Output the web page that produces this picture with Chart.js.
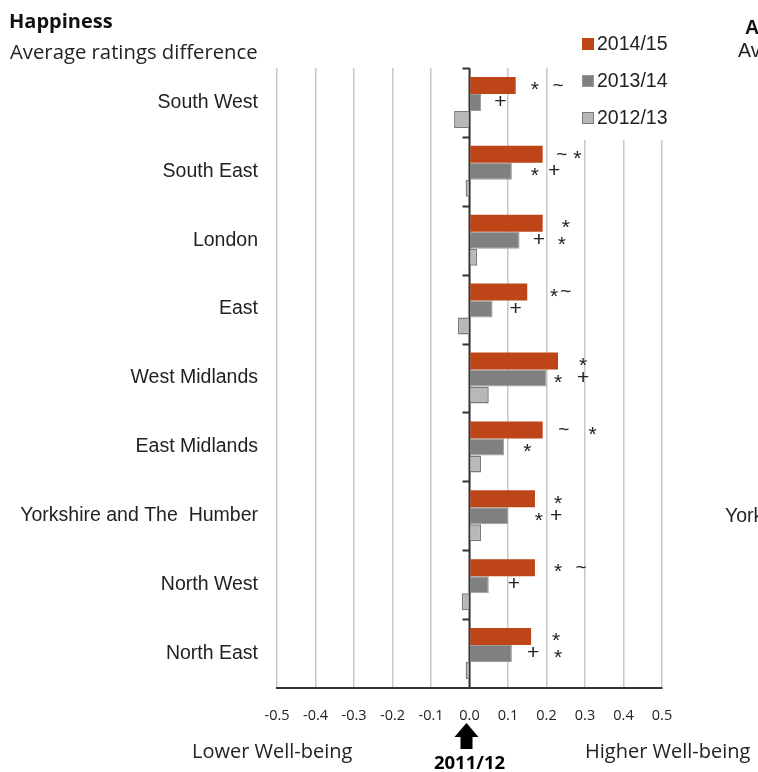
<!DOCTYPE html>
<html>
<head>
    <meta charset="UTF-8">
    <title>Happiness - Average ratings difference</title>
    <script src="https://cdn.jsdelivr.net/npm/chart.js@4.4.1/dist/chart.umd.min.js"></script>
    <style>
        body { margin: 0; background: #fff; }
        #wrap { position: relative; width: 758px; height: 772px; }
    </style>
</head>
<body>
<div id="wrap">
    <canvas id="happinessChart" width="758" height="772"></canvas>
</div>

<script>
    // Regions, top to bottom.
    var regions = ['South West', 'South East', 'London', 'East', 'West Midlands',
        'East Midlands', 'Yorkshire and The  Humber', 'North West', 'North East'];

    // Average ratings difference compared with 2011/12.
    var diff2014 = [0.12, 0.19, 0.19, 0.15, 0.23, 0.19, 0.17, 0.17, 0.16];
    var diff2013 = [0.03, 0.11, 0.13, 0.06, 0.20, 0.09, 0.10, 0.05, 0.11];
    var diff2012 = [-0.04, -0.01, 0.02, -0.03, 0.05, 0.03, 0.03, -0.02, -0.01];

    // Significance markers next to the bars: [symbol, value on the x axis].
    var marks2014 = [
        [['*', 0.17], ['~', 0.23]],
        [['~', 0.24], ['*', 0.28]],
        [['*', 0.25]],
        [['*', 0.22], ['~', 0.25]],
        [['*', 0.295]],
        [['~', 0.245], ['*', 0.32]],
        [['*', 0.23]],
        [['*', 0.23], ['~', 0.29]],
        [['*', 0.225]]
    ];
    var marks2013 = [
        [['+', 0.08]],
        [['*', 0.17], ['+', 0.22]],
        [['+', 0.18], ['*', 0.24]],
        [['+', 0.12]],
        [['*', 0.23], ['+', 0.295]],
        [['*', 0.15]],
        [['*', 0.18], ['+', 0.225]],
        [['+', 0.115]],
        [['+', 0.165], ['*', 0.23]]
    ];

    var xTicks = [-0.5, -0.4, -0.3, -0.2, -0.1, 0.0, 0.1, 0.2, 0.3, 0.4, 0.5];

    // Draws the zero axis, markers, legend and the texts around the plot.
    var extras = {
        id: 'extras',
        beforeDatasetsDraw: function(chart) {
            var ctx = chart.ctx;
            var x = chart.scales.x, y = chart.scales.y;
            var x0 = x.getPixelForValue(0);
            ctx.save();
            // white box behind the legend hides the top of two grid lines
            ctx.fillStyle = '#fff';
            ctx.fillRect(574, chart.chartArea.top - 2, 100, 140 - chart.chartArea.top + 2);
            // zero axis with tick marks at category boundaries
            ctx.strokeStyle = '#333';
            ctx.lineWidth = 2;
            ctx.beginPath();
            ctx.moveTo(x0, chart.chartArea.top);
            ctx.lineTo(x0, chart.chartArea.bottom);
            for (var i = 0; i < regions.length; i++) {
                var ty = Math.round(y.getPixelForValue(i - 0.5)) + 0.5;
                ctx.moveTo(x0 - 7, ty);
                ctx.lineTo(x0, ty);
            }
            ctx.stroke();
            ctx.restore();
        },
        afterDraw: function(chart) {
            var ctx = chart.ctx;
            var x = chart.scales.x;
            var x0 = x.getPixelForValue(0);
            ctx.save();

            // significance markers
            ctx.fillStyle = '#222';
            ctx.textBaseline = 'middle';
            ctx.textAlign = 'center';
            [[0, marks2014], [1, marks2013]].forEach(function(pair) {
                var meta = chart.getDatasetMeta(pair[0]);
                pair[1].forEach(function(list, j) {
                    var by = meta.data[j].y;
                    list.forEach(function(m) {
                        if (m[0] === '*') {
                            ctx.font = '21px "Liberation Sans"';
                            ctx.fillText('*', x.getPixelForValue(m[1]), by + 5);
                        } else if (m[0] === '+') {
                            ctx.font = '21px "Liberation Sans"';
                            ctx.fillText('+', x.getPixelForValue(m[1]), by);
                        } else {
                            ctx.font = '19px "Liberation Sans"';
                            ctx.fillText('~', x.getPixelForValue(m[1]), by);
                        }
                    });
                });
            });

            // legend
            ctx.textAlign = 'left';
            ctx.font = '19.5px "Liberation Sans"';
            chart.data.datasets.forEach(function(ds, i) {
                var ly = 44 + i * 37;
                ctx.fillStyle = ds.backgroundColor;
                ctx.fillRect(582, ly - 6, 12, 12);
                ctx.strokeStyle = ds.borderColor;
                ctx.lineWidth = 1;
                ctx.strokeRect(582.5, ly - 5.5, 11, 11);
                ctx.fillStyle = '#222';
                ctx.fillText(ds.label, 597, ly + 1);
            });

            // titles
            ctx.fillStyle = '#111';
            ctx.font = 'bold 20px "Open Sans"';
            ctx.fillText('Happiness', 9, 22);
            ctx.font = '20.3px "Open Sans"';
            ctx.fillStyle = '#222';
            ctx.fillText('Average ratings difference', 10, 53);

            // neighbouring chart, cut by the right edge
            ctx.font = 'bold 19.5px "Liberation Sans"';
            ctx.fillStyle = '#111';
            ctx.fillText('Anxiety', 745, 29);
            ctx.font = '19.5px "Liberation Sans"';
            ctx.fillStyle = '#222';
            ctx.fillText('Average ratings difference', 738, 52);
            ctx.fillText('Yorkshire and The  Humber', 725, 517);

            // bottom texts
            ctx.font = '20px "Open Sans"';
            ctx.fillText('Lower Well-being', 192, 752);
            ctx.fillText('Higher Well-being', 585, 752);

            // arrow at 2011/12 baseline
            ctx.fillStyle = '#000';
            ctx.beginPath();
            ctx.moveTo(x0 - 3, 723);
            ctx.lineTo(x0 + 9, 737);
            ctx.lineTo(x0 + 3, 737);
            ctx.lineTo(x0 + 3, 749);
            ctx.lineTo(x0 - 9, 749);
            ctx.lineTo(x0 - 9, 737);
            ctx.lineTo(x0 - 15, 737);
            ctx.closePath();
            ctx.fill();
            ctx.textAlign = 'center';
            ctx.font = 'bold 18.5px "Open Sans"';
            ctx.fillText('2011/12', x0, 764);
            ctx.restore();
        }
    };

    var ctx = document.getElementById('happinessChart').getContext('2d');
    var chart = new Chart(ctx, {
        type: 'bar',
        data: {
            labels: regions,
            datasets: [{
                label: '2014/15',
                data: diff2014,
                backgroundColor: '#BE4517',
                borderColor: '#BE4517',
                borderWidth: 0
            }, {
                label: '2013/14',
                data: diff2013,
                backgroundColor: '#808080',
                borderColor: '#9A9A9A',
                borderWidth: 1
            }, {
                label: '2012/13',
                data: diff2012,
                backgroundColor: '#B8B8B8',
                borderColor: '#7A7A7A',
                borderWidth: 1.5
            }]
        },
        options: {
            indexAxis: 'y',
            responsive: false,
            animation: false,
            categoryPercentage: 0.74,
            barPercentage: 1.0,
            layout: { padding: { top: 68, right: 96, bottom: 0, left: 0 } },
            plugins: {
                legend: { display: false },
                tooltip: { enabled: false }
            },
            scales: {
                x: {
                    min: -0.5,
                    max: 0.5,
                    afterBuildTicks: function(scale) {
                        scale.ticks = xTicks.map(function(v) { return { value: v }; });
                    },
                    afterFit: function(scale) { scale.height = 84; },
                    grid: {
                        color: '#C8C8C8',
                        lineWidth: 1.5,
                        drawTicks: false
                    },
                    border: { display: true, color: '#333', width: 2 },
                    ticks: {
                        padding: 19,
                        color: '#222',
                        font: { family: 'Open Sans', size: 14.5 },
                        callback: function(v) { return v.toFixed(1); }
                    }
                },
                y: {
                    afterFit: function(scale) { scale.width = 277; },
                    grid: { display: false },
                    border: { display: false },
                    ticks: {
                        padding: 11,
                        color: '#222',
                        font: { family: 'Liberation Sans', size: 19.5 }
                    }
                }
            }
        },
        plugins: [extras]
    });
</script>
</body>
</html>
